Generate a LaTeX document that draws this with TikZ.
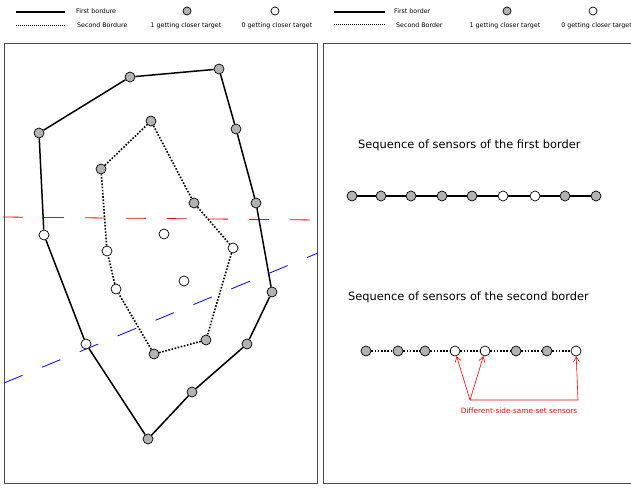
\documentclass[tikz,border=0pt]{standalone}
\usepackage{fontspec}
\setmainfont{DejaVu Sans}
\usetikzlibrary{arrows.meta}
\begin{document}
\begin{tikzpicture}[x=1pt,y=-1pt,
  gs/.style={circle,draw=black,fill=black!30,line width=0.7pt,minimum size=10pt,inner sep=0pt},
  ws/.style={circle,draw=black,fill=white,line width=0.7pt,minimum size=10pt,inner sep=0pt},
  firstb/.style={line width=1.5pt},
  secondb/.style={line width=1.6pt,dash pattern=on 1.6pt off 1.6pt},
  frame/.style={draw=black!70,line width=1pt},
  legtext/.style={font=\fontsize{6.3}{7.5}\selectfont,inner sep=0pt},
  seqtext/.style={font=\fontsize{11.4}{13}\selectfont,inner sep=0pt},
  redarr/.style={red,line width=0.6pt,-{Straight Barb[length=5pt,width=6pt]}},
  cutline/.style={line width=0.8pt,dash pattern=on 20pt off 21pt}]
\useasboundingbox (0,0) rectangle (631,487);
% frames
\draw[frame] (4,44) rectangle (317,483);
\draw[frame] (634,44) -- (323,44) -- (323,483) -- (634,483);
% legend left
\coordinate (ll1a) at (16,12); \coordinate (ll1b) at (65,12);
\coordinate (ll2a) at (16,26); \coordinate (ll2b) at (65,26);
\draw[firstb] (ll1a) -- (ll1b);
\draw[line width=1pt,dash pattern=on 1pt off 1pt] (ll2a) -- (ll2b);
\node[legtext,anchor=west] (lt1) at (76,11) {First bordure};
\node[legtext,anchor=west] (lt2) at (77,25) {Second Bordure};
\node[gs,minimum size=8pt] (lg) at (187,11) {};
\node[ws,minimum size=8pt] (lw) at (275,11) {};
\node[legtext] (lt3) at (186,26) {1 getting closer target};
\node[legtext] (lt4) at (277,26) {0 getting closer target};
% legend right
\coordinate (lr1a) at (334,12); \coordinate (lr1b) at (385,12);
\coordinate (lr2a) at (334,25); \coordinate (lr2b) at (385,25);
\draw[firstb] (lr1a) -- (lr1b);
\draw[line width=1pt,dash pattern=on 1pt off 1pt] (lr2a) -- (lr2b);
\node[legtext,anchor=west] (rt1) at (394,11) {First border};
\node[legtext,anchor=west] (rt2) at (396,25) {Second Border};
\node[gs,minimum size=8pt] (rg) at (507,11) {};
\node[ws,minimum size=8pt] (rw) at (593,11) {};
\node[legtext] (rt3) at (505,26) {1 getting closer target};
\node[legtext,anchor=east] (rt4) at (632,26) {0 getting closer target};
% cut lines
\coordinate (ra) at (3,217); \coordinate (rb) at (318,220);
\coordinate (ba) at (4,383); \coordinate (bb) at (318,253);
\draw[cutline,red] (ra) -- (rb);
\draw[cutline,blue] (ba) -- (bb);
% outer border
\node[gs] (o1) at (39,133) {};
\node[gs] (o2) at (130,77) {};
\node[gs] (o3) at (219,69) {};
\node[gs] (o4) at (236,129) {};
\node[gs] (o5) at (256,203) {};
\node[gs] (o6) at (272,292) {};
\node[gs] (o7) at (247,344) {};
\node[gs] (o8) at (192,392) {};
\node[gs] (o9) at (148,439) {};
\node[ws] (o10) at (86,344) {};
\node[ws] (o11) at (44,235) {};
\draw[firstb] (o1)--(o2)--(o3)--(o4)--(o5)--(o6)--(o7)--(o8)--(o9)--(o10)--(o11)--(o1);
% inner border
\node[gs] (i1) at (151,121) {};
\node[gs] (i2) at (194,203) {};
\node[ws] (i3) at (233,248) {};
\node[gs] (i4) at (206,340) {};
\node[gs] (i5) at (154,354) {};
\node[ws] (i6) at (116,289) {};
\node[ws] (i7) at (107,251) {};
\node[gs] (i8) at (101,169) {};
\draw[secondb] (i1)--(i2)--(i3)--(i4)--(i5)--(i6)--(i7)--(i8)--(i1);
\node[ws] (c1) at (164,234) {};
\node[ws] (c2) at (184,281) {};
% sequence 1
\node[seqtext,anchor=west] (s1t) at (358,145) {Sequence of sensors of the first border};
\foreach \x/\s [count=\i] in {352/gs,381/gs,411/gs,442/gs,472/gs,503/ws,535/ws,565/gs,596/gs}
  \node[\s] (a\i) at (\x,196) {};
\foreach \i [evaluate=\i as \j using int(\i+1)] in {1,...,8}
  \draw[firstb] (a\i) -- (a\j);
% sequence 2
\node[seqtext,anchor=west] (s2t) at (348,297) {Sequence of sensors of the second border};
\foreach \x/\s [count=\i] in {366/gs,398/gs,425/gs,455/ws,485/ws,516/gs,547/gs,576/ws}
  \node[\s] (b\i) at (\x,351) {};
\foreach \i [evaluate=\i as \j using int(\i+1)] in {1,...,7}
  \draw[secondb] (b\i) -- (b\j);
% red annotation
\coordinate (rp) at (470,400);
\coordinate (rq) at (578,400);
\draw[redarr] (rp) -- (b4);
\draw[redarr] (rp) -- (b5);
\draw[redarr] (rp) -- (rq) -- (b8);
\node[legtext,red,font=\fontsize{7.3}{8.5}\selectfont] (rl) at (519,411) {Different-side-same-set sensors};
\end{tikzpicture}
\end{document}
